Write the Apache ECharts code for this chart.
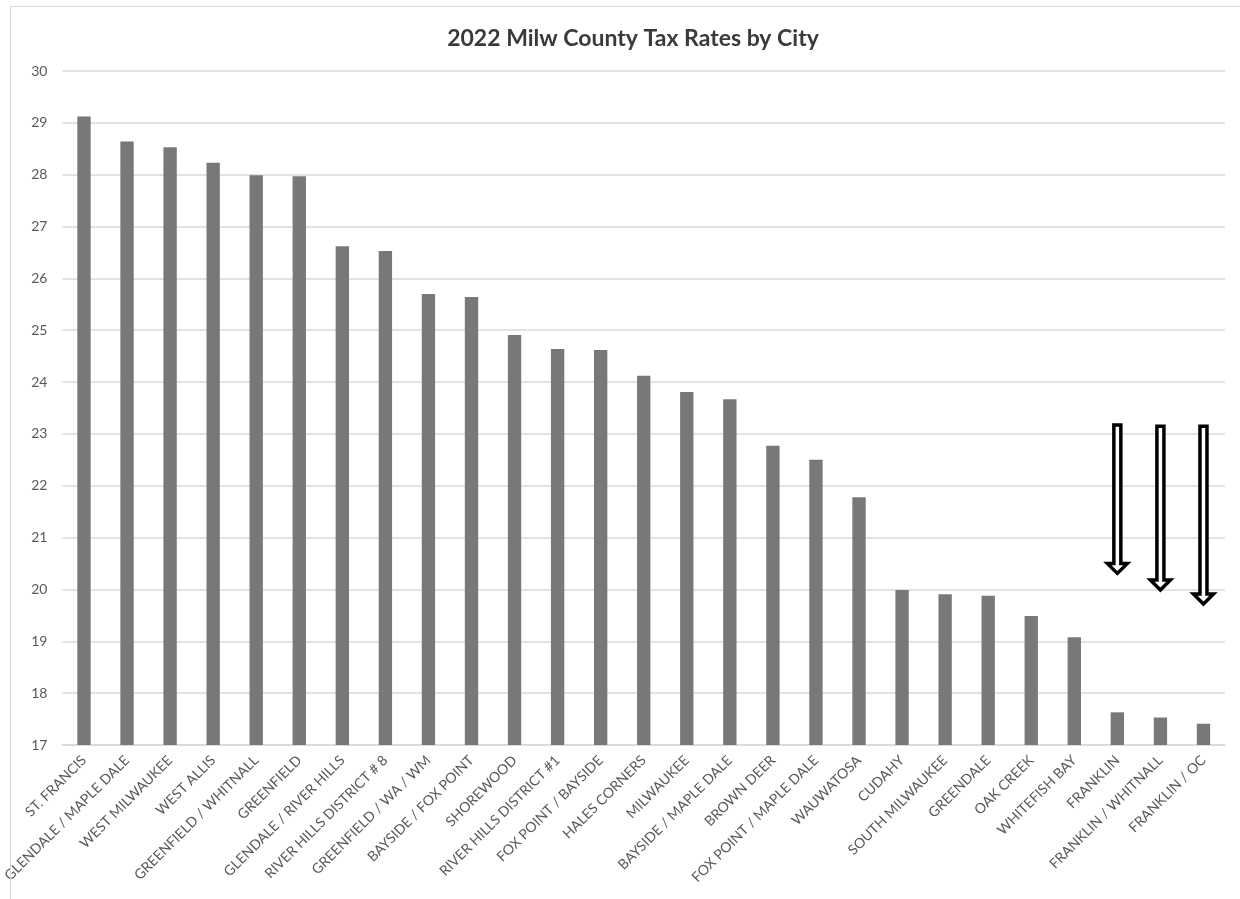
<!DOCTYPE html>
<html>
<head>
<meta charset="utf-8">
<script src="https://cdn.jsdelivr.net/npm/echarts@6/dist/echarts.min.js"></script>
<style>
html,body{margin:0;padding:0;background:#fff;}
#chart{width:1240px;height:899px;}
</style>
</head>
<body>
<div id="chart"></div>
<script>
const titleText = '2022 Milw County Tax Rates by City';
const categories = ['ST. FRANCIS','GLENDALE / MAPLE DALE','WEST MILWAUKEE','WEST ALLIS','GREENFIELD / WHITNALL','GREENFIELD','GLENDALE / RIVER HILLS','RIVER HILLS DISTRICT # 8','GREENFIELD / WA / WM','BAYSIDE / FOX POINT','SHOREWOOD','RIVER HILLS DISTRICT #1','FOX POINT / BAYSIDE','HALES CORNERS','MILWAUKEE','BAYSIDE / MAPLE DALE','BROWN DEER','FOX POINT / MAPLE DALE','WAUWATOSA','CUDAHY','SOUTH MILWAUKEE','GREENDALE','OAK CREEK','WHITEFISH BAY','FRANKLIN','FRANKLIN / WHITNALL','FRANKLIN / OC'];
const taxRates = [29.12,28.64,28.53,28.23,27.99,27.97,26.62,26.53,25.70,25.64,24.91,24.64,24.62,24.12,23.81,23.67,22.77,22.50,21.78,19.99,19.91,19.88,19.49,19.08,17.63,17.53,17.41];
const yTicks = [17,18,19,20,21,22,23,24,25,26,27,28,29,30];
// annotation arrows: category index, top value, tip value
const arrowIndex = [24,25,26];
const arrowTop = [23.17,23.15,23.15];
const arrowTip = [20.31,19.99,19.72];
</script>
<script>
const font = 'Lato, "Noto Sans", sans-serif';
const chart = echarts.init(document.getElementById('chart'));
chart.setOption({
  animation: false,
  backgroundColor: '#ffffff',
  title: {
    text: titleText,
    left: 628, top: 22, textAlign: 'center',
    textStyle: {fontFamily: font, fontSize: 23, fontWeight: 'bold', color: '#3a3a3a'}
  },
  graphic: [{
    type: 'rect', left: 8, top: 4, silent: true, z: 100,
    shape: {width: 1260, height: 920},
    style: {fill: 'none', stroke: '#d9d9d9', lineWidth: 1}
  }],
  grid: {left: 62, right: 15, top: 71, bottom: 154, containLabel: false},
  xAxis: {
    type: 'category',
    data: categories,
    axisTick: {show: false},
    axisLine: {lineStyle: {color: '#d9d9d9', width: 1.5}},
    axisLabel: {
      interval: 0, rotate: 45, margin: 13,
      fontFamily: font, fontSize: 14, color: '#595959'
    }
  },
  yAxis: {
    type: 'value',
    min: yTicks[0], max: yTicks[yTicks.length - 1], interval: 1,
    axisLine: {show: false},
    axisTick: {show: false},
    splitLine: {lineStyle: {color: '#d9d9d9', width: 1.5}},
    axisLabel: {fontFamily: font, fontSize: 14, color: '#595959', margin: 15}
  },
  series: [{
    type: 'bar',
    data: taxRates,
    barWidth: '31%',
    itemStyle: {color: '#787878'}
  }, {
    type: 'custom',
    silent: true,
    data: arrowIndex.map((s, i) => [s, arrowTop[i], arrowTip[i]]),
    renderItem: function (params, api) {
      const top = api.coord([api.value(0), api.value(1)]);
      const tip = api.coord([api.value(0), api.value(2)]);
      const cx = top[0], yT = top[1], yP = tip[1];
      const sw = 3.5, hw = 10, hh = 10;
      return {
        type: 'polygon',
        shape: {points: [
          [cx - sw, yT], [cx + sw, yT], [cx + sw, yP - hh], [cx + hw, yP - hh],
          [cx, yP], [cx - hw, yP - hh], [cx - sw, yP - hh]
        ]},
        style: {fill: '#ffffff', stroke: '#000000', lineWidth: 3.5, lineJoin: 'miter'}
      };
    },
    z: 10
  }]
});
</script>
</body>
</html>
